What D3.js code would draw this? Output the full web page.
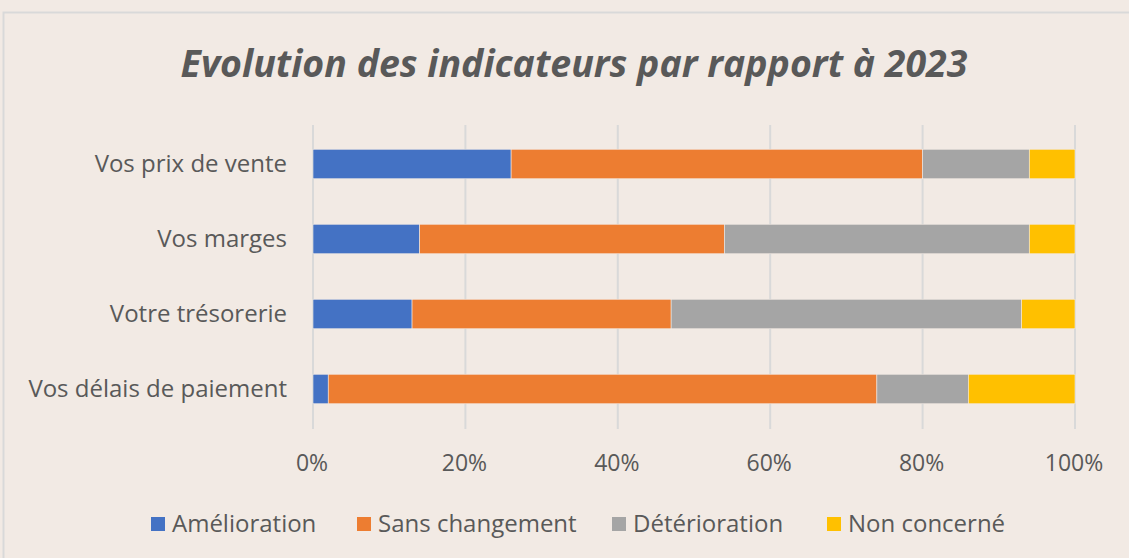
<!DOCTYPE html>
<html>
<head>
<meta charset="utf-8">
<script src="https://cdn.jsdelivr.net/npm/d3@7"></script>
<style>
  body { margin: 0; background: #f2eae4; }
  svg { display: block; }
</style>
</head>
<body>
<svg id="chart" width="1129" height="558"></svg>
<script>
const categories = ["Vos prix de vente", "Vos marges", "Votre trésorerie", "Vos délais de paiement"];
const seriesNames = ["Amélioration", "Sans changement", "Détérioration", "Non concerné"];
const amelioration = [26, 14, 13, 2];
const sansChangement = [54, 40, 34, 72];
const deterioration = [14, 40, 46, 12];
const nonConcerne = [6, 6, 7, 14];
const xTicks = [0, 20, 40, 60, 80, 100];

const colors = ["#4472c4", "#ed7d31", "#a5a5a5", "#ffc000"];
const textColor = "#595959";
const font = "'Open Sans', Lato, sans-serif";

var svg = d3.select("#chart");

// frame of the chart area
svg.append("rect")
    .attr("x", 3.5).attr("y", 12.5)
    .attr("width", 1140).attr("height", 560)
    .attr("fill", "#f2eae4")
    .attr("stroke", "#d9d9d9")
    .attr("stroke-width", 2);

const x = d3.scaleLinear().domain([0, 100]).range([313, 1075]);
const y = d3.scaleBand().domain(categories).range([126.5, 426.5]).paddingInner(0.607).paddingOuter(0.3035);

// gridlines
svg.append("g")
    .selectAll("line")
    .data(xTicks)
    .join("line")
    .attr("x1", d => x(d)).attr("x2", d => x(d))
    .attr("y1", 125).attr("y2", 429)
    .attr("stroke", "#d9d9d9")
    .attr("stroke-width", 2);

// stack the series
const rows = categories.map((c, i) => ({
    cat: c,
    "Amélioration": amelioration[i],
    "Sans changement": sansChangement[i],
    "Détérioration": deterioration[i],
    "Non concerné": nonConcerne[i]
}));
const stacked = d3.stack().keys(seriesNames)(rows);

svg.append("g")
    .selectAll("g")
    .data(stacked)
    .join("g")
    .attr("fill", (d, i) => colors[i])
    .selectAll("rect")
    .data(d => d)
    .join("rect")
    .attr("x", d => x(d[0]))
    .attr("width", d => x(d[1]) - x(d[0]))
    .attr("y", d => y(d.data.cat))
    .attr("height", y.bandwidth())
    .attr("stroke", "#f2eae4")
    .attr("stroke-width", 0.6);

// category labels
svg.append("g")
    .selectAll("text")
    .data(categories)
    .join("text")
    .attr("x", 287)
    .attr("y", d => y(d) + y.bandwidth() / 2 + 8)
    .attr("text-anchor", "end")
    .attr("fill", textColor)
    .style("font-family", font)
    .style("font-size", "24px")
    .text(d => d);

// x axis labels
svg.append("g")
    .selectAll("text")
    .data(xTicks)
    .join("text")
    .attr("x", d => x(d) - 1)
    .attr("y", 471)
    .attr("text-anchor", "middle")
    .attr("fill", textColor)
    .style("font-family", font)
    .style("font-size", "23px")
    .text(d => d + "%");

// title
svg.append("text")
    .attr("x", 574)
    .attr("y", 77)
    .attr("text-anchor", "middle")
    .attr("fill", textColor)
    .style("font-family", font)
    .style("font-size", "37.5px")
    .style("font-style", "italic")
    .style("font-weight", "bold")
    .text("Evolution des indicateurs par rapport à 2023");

// legend
const legendX = [151, 357, 612, 827];
const legend = svg.append("g")
    .selectAll("g")
    .data(seriesNames)
    .join("g")
    .attr("transform", (d, i) => `translate(${legendX[i]},524)`);
legend.append("rect")
    .attr("x", 0).attr("y", -7)
    .attr("width", 14).attr("height", 14)
    .attr("fill", (d, i) => colors[i]);
legend.append("text")
    .attr("x", 21)
    .attr("y", 8)
    .attr("fill", textColor)
    .style("font-family", font)
    .style("font-size", "24px")
    .text(d => d);
</script>
</body>
</html>
